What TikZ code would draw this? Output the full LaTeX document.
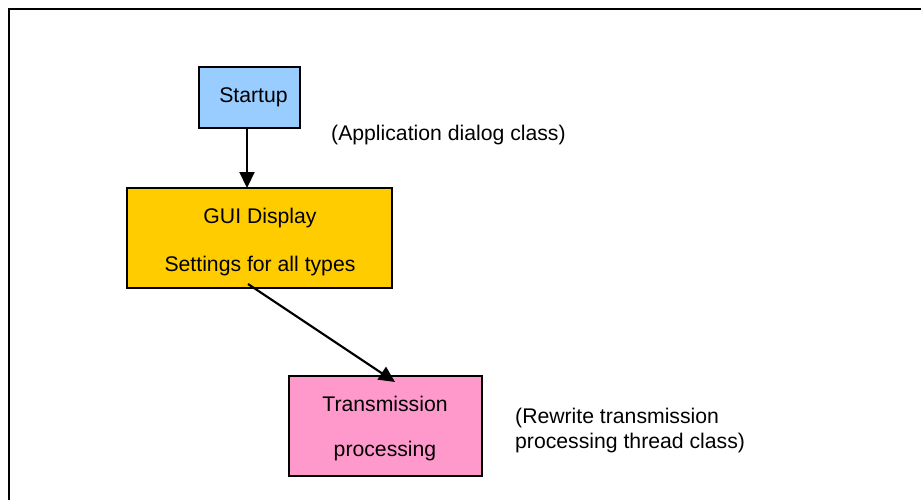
\documentclass[tikz,border=0pt]{standalone}
\usepackage{fontspec}
\setmainfont{Liberation Sans}
\usetikzlibrary{arrows.meta,calc}
\definecolor{startblue}{HTML}{99CCFF}
\definecolor{guigold}{HTML}{FFCC00}
\definecolor{txpink}{HTML}{FF99CC}
\tikzset{
  box/.style={draw=black,line width=1.6pt,inner sep=0pt,outer sep=0pt},
  txt/.style={anchor=base,inner sep=0pt,font=\fontsize{21.2}{24}\selectfont},
  ltxt/.style={anchor=base west,inner sep=0pt,font=\fontsize{21.2}{24}\selectfont},
  conn/.style={line width=2.2pt,-{Triangle[length=16pt,width=15pt]}}
}
\begin{document}
\begin{tikzpicture}[x=1pt,y=-1pt]
\useasboundingbox (0,0) rectangle (921,500);
\draw[line width=2pt] (921,9) -- (9,9) -- (9,500);
\node[box,fill=startblue,minimum width=101pt,minimum height=61pt] (startup) at (249.5,97.5) {};
\node[box,fill=guigold,minimum width=265pt,minimum height=100pt] (gui) at (259.5,238) {};
\node[box,fill=txpink,minimum width=193pt,minimum height=100pt] (tx) at (385.5,426) {};
\node[txt] (t1) at (253.5,103) {Startup};
\node[ltxt] (t2) at (331,141) {(Application dialog class)};
\node[txt] (t3) at (260,223) {GUI Display};
\node[txt] (t4) at (260,271) {Settings for all types};
\node[txt] (t5) at (385,411) {Transmission};
\node[txt] (t6) at (385,456) {processing};
\node[ltxt] (t7) at (515,423) {(Rewrite transmission};
\node[ltxt] (t8) at (515,448) {processing thread class)};
\coordinate (a1s) at ($(startup.south)+(-2.5,0)$);
\coordinate (a1e) at (a1s |- gui.north);
\draw[conn] (a1s) -- (a1e);
\coordinate (a2s) at ($(gui.south)+(-11.5,-4)$);
\coordinate (a2e) at ($(tx.north)+(9.5,6)$);
\draw[conn] (a2s) -- (a2e);
\end{tikzpicture}
\end{document}
